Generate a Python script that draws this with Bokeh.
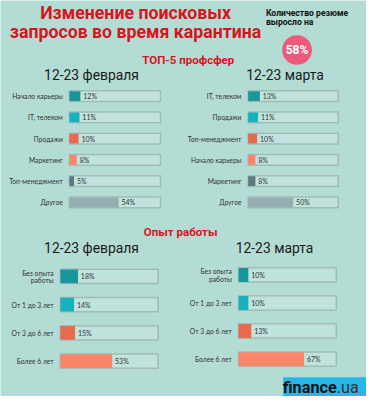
from bokeh.plotting import figure
from bokeh.models import Range1d
from bokeh.core.properties import value
from bokeh.embed import file_html
from bokeh.resources import INLINE

# ---- data ----
title_lines = ["Изменение поисковых", "запросов во время карантина"]
note_lines = ["Количество резюме", "выросло на"]
growth = "58%"
section1 = "ТОП-5 профсфер"
section2 = "Опыт работы"
period_feb = "12-23 февраля"
period_mar = "12-23 марта"

feb_cats = ["Начало карьеры", "IT, телеком", "Продажи", "Маркетинг", "Топ-менеджмент", "Другое"]
feb_vals = [12, 11, 10, 8, 5, 54]
mar_cats = ["IT, телеком", "Продажи", "Топ-менеджмент", "Начало карьеры", "Маркетинг", "Другое"]
mar_vals = [13, 11, 10, 8, 8, 50]

exp_cats = ["Без опыта\nработы", "От 1 до 3 лет", "От 3 до 6 лет", "Более 6 лет"]
exp_feb = [18, 14, 15, 53]
exp_mar = [10, 10, 13, 67]

palette = ["#17979c", "#17b3bc", "#e86a4e", "#f9866a", "#5e7a81", "#95aeb3"]

W, H = 366, 396
S = W / 382.0
BG = "#b3dcd5"
RED = "#d9141e"

p = figure(width=W, height=H, output_backend="svg", toolbar_location=None,
           x_range=Range1d(0, 382), y_range=Range1d(412, 0),
           min_border=0, min_border_left=0, min_border_right=0,
           min_border_top=0, min_border_bottom=0)
p.axis.visible = False
p.grid.visible = False
p.outline_line_color = None
p.background_fill_color = BG
p.border_fill_color = BG


def fs(px):
    return value(f"{px * S:.2f}px")


def txt(x, y, t, size, color="#222222", font="Roboto", style="normal", align="left", baseline="middle"):
    p.text(x=[x], y=[y], text=[t], text_font=value(font), text_font_size=fs(size),
           text_font_style=style, text_color=color, text_align=align, text_baseline=baseline)


# title
txt(141, 12.5, title_lines[0], 18.5, RED, "Roboto", "bold", "center")
txt(141, 33, title_lines[1], 18.5, RED, "Roboto", "bold", "center")
txt(277, 13, note_lines[0], 9, "#111111", "Roboto", "bold")
txt(277, 22, note_lines[1], 9, "#111111", "Roboto", "bold")
p.scatter(x=[309.5], y=[51.5], size=31 * S, marker="circle", fill_color="#eb5a7b", line_color=None)
txt(309.5, 52, growth, 12.5, "white", "Roboto", "bold", "center")

txt(196, 62, section1, 12, RED, "Roboto", "bold", "center")
txt(188, 241, section2, 12, RED, "Roboto", "bold", "center")

txt(95, 77.5, period_feb, 14.5, "#1a1a1a", "Roboto", "normal", "center")
txt(297, 77.5, period_mar, 14.5, "#1a1a1a", "Roboto", "normal", "center")
txt(95, 257, period_feb, 14.5, "#1a1a1a", "Roboto", "normal", "center")
txt(286, 257, period_mar, 14.5, "#1a1a1a", "Roboto", "normal", "center")


def panel(cats, vals, x0, width, y0, step, bar_h, track_h, colors):
    n = len(vals)
    ys = [y0 + step * i for i in range(n)]
    rights = [x0 + v * width / 100.0 for v in vals]
    p.hbar(y=ys, left=[x0] * n, right=[x0 + width] * n, height=track_h,
           fill_color="#c0e3dd", line_color="#a3bab7", line_width=1.5)
    p.hbar(y=ys, left=[x0] * n, right=rights, height=bar_h, fill_color=colors[:n], line_color=None)
    p.text(x=[r + 3 for r in rights], y=ys, text=[f"{v}%" for v in vals],
           text_font=value("Lato"), text_font_size=fs(7.3), text_color="#333333",
           text_align="left", text_baseline="middle")
    lx, ly, lt = [], [], []
    for c, y in zip(cats, ys):
        parts = c.split("\n")
        m = len(parts)
        for k, part in enumerate(parts):
            lx.append(x0 - 7)
            ly.append(y + (k - (m - 1) / 2.0) * 7.5)
            lt.append(part)
    p.text(x=lx, y=ly, text=lt, text_font=value("Lato"), text_font_size=fs(7.0),
           text_color="#333333", text_align="right", text_baseline="middle")


panel(feb_cats, feb_vals, 72, 95, 99.5, 22.1, 10, 11, palette)
panel(mar_cats, mar_vals, 258.5, 94, 99.5, 22.1, 10, 11, palette)
panel(exp_cats, exp_feb, 62.5, 102, 287, 29.4, 14.5, 15, palette)
panel(exp_cats, exp_mar, 248.5, 102, 285.5, 29.2, 14.5, 15, palette)

# watermark
p.quad(left=[295], right=[384], top=[392], bottom=[412], fill_color="#27b6e6", line_color=None)
p.text(x=[351], y=[402.5], text=["finance"], text_font=value("Roboto"), text_font_size=fs(17),
       text_font_style="bold", text_color="#111111", text_align="right", text_baseline="middle")
p.text(x=[351], y=[402.5], text=[".ua"], text_font=value("Roboto"), text_font_size=fs(17),
       text_color="#333333", text_align="left", text_baseline="middle")

open("out.html", "w").write(file_html(p, INLINE))
